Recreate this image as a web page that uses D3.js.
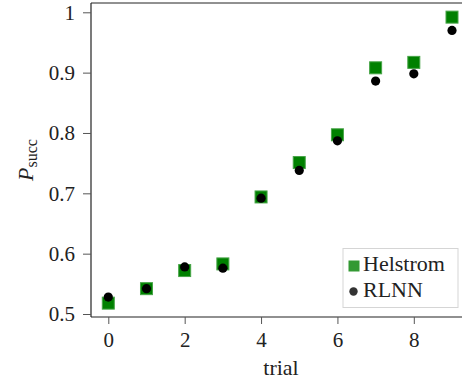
<!DOCTYPE html>
<html><head><meta charset="utf-8">
<script src="https://cdn.jsdelivr.net/npm/d3@7"></script>
<style>body{margin:0;background:#fff}svg{display:block}</style>
</head><body>
<script>
const trials = [0,1,2,3,4,5,6,7,8,9];
const helstrom = [0.518,0.542,0.572,0.583,0.694,0.751,0.797,0.908,0.917,0.992];
const rlnn = [0.528,0.542,0.578,0.576,0.692,0.738,0.787,0.886,0.898,0.970];
const xTicks = [0,2,4,6,8];
const yTicks = [0.5,0.6,0.7,0.8,0.9,1];
const seriesNames = ["Helstrom","RLNN"];

(function(){
const W=462,H=385;
const FF="Liberation Serif";
const svg=d3.select("body").append("svg").attr("width",W).attr("height",H)
  .attr("font-family",FF);

const x=d3.scaleLinear().domain([0,9]).range([108.3,452]);
const y=d3.scaleLinear().domain([0.5,1]).range([314,12.3]);
const pl=91, pt=3, pb=317;

// spines
svg.append("line").attr("x1",pl).attr("x2",W).attr("y1",pt).attr("y2",pt).attr("stroke","#222").attr("stroke-width",1);
svg.append("line").attr("x1",pl).attr("x2",pl).attr("y1",pt).attr("y2",pb).attr("stroke","#222").attr("stroke-width",1.2);
svg.append("line").attr("x1",pl).attr("x2",W).attr("y1",pb).attr("y2",pb).attr("stroke","#222").attr("stroke-width",1.2);

// axes
const xa=svg.append("g").attr("transform",`translate(0,${pb})`)
  .call(d3.axisBottom(x).tickValues(xTicks).tickFormat(d3.format("d")).tickSize(7).tickPadding(8));
const ya=svg.append("g").attr("transform",`translate(${pl},0)`)
  .call(d3.axisLeft(y).tickValues(yTicks).tickFormat(d=>d===1?"1":d3.format(".1f")(d)).tickSize(8).tickPadding(8));
[xa,ya].forEach(g=>{
  g.attr("font-family",FF).attr("font-size",21);
  g.select(".domain").remove();
  g.selectAll(".tick line").attr("stroke","#555").attr("stroke-width",1);
  g.selectAll(".tick text").attr("font-family",FF).attr("font-size",21).attr("fill","#222");
});

// Helstrom squares
const s=12;
svg.append("g").selectAll("rect").data(trials).join("rect")
  .attr("x",d=>x(d)-s/2).attr("y",(d,i)=>y(helstrom[i])-s/2)
  .attr("width",s).attr("height",s)
  .attr("fill","#008000").attr("stroke","#47a447").attr("stroke-width",1);
// RLNN circles
svg.append("g").selectAll("circle").data(trials).join("circle")
  .attr("cx",d=>x(d)).attr("cy",(d,i)=>y(rlnn[i])).attr("r",4.6)
  .attr("fill","#000");

// legend
const lg=svg.append("g");
lg.append("rect").attr("x",343).attr("y",248.5).attr("width",115).attr("height",59)
  .attr("fill","#fff").attr("fill-opacity",0.85).attr("stroke","#d5d5d5").attr("stroke-width",1);
lg.append("rect").attr("x",348.5).attr("y",260.5).attr("width",11).attr("height",11).attr("fill","#339933");
lg.append("circle").attr("cx",353.5).attr("cy",291.5).attr("r",4.2).attr("fill","#333");
lg.selectAll("text.l").data(seriesNames).join("text").attr("class","l")
  .attr("x",363).attr("y",(d,i)=>i===0?271:297)
  .attr("font-family",FF).attr("font-size",22).attr("fill","#222").text(d=>d);

// axis labels
svg.append("text").attr("x",281).attr("y",375).attr("text-anchor","middle")
  .attr("font-family",FF).attr("font-size",22).attr("fill","#222").text("trial");
const yl=svg.append("text").attr("transform","translate(33,160) rotate(-90)").attr("text-anchor","middle")
  .attr("font-family",FF).attr("font-size",22).attr("fill","#222");
yl.append("tspan").attr("font-style","italic").text("P");
yl.append("tspan").attr("font-size",16).attr("dy",4).text("succ");
})();
</script>
</body></html>
